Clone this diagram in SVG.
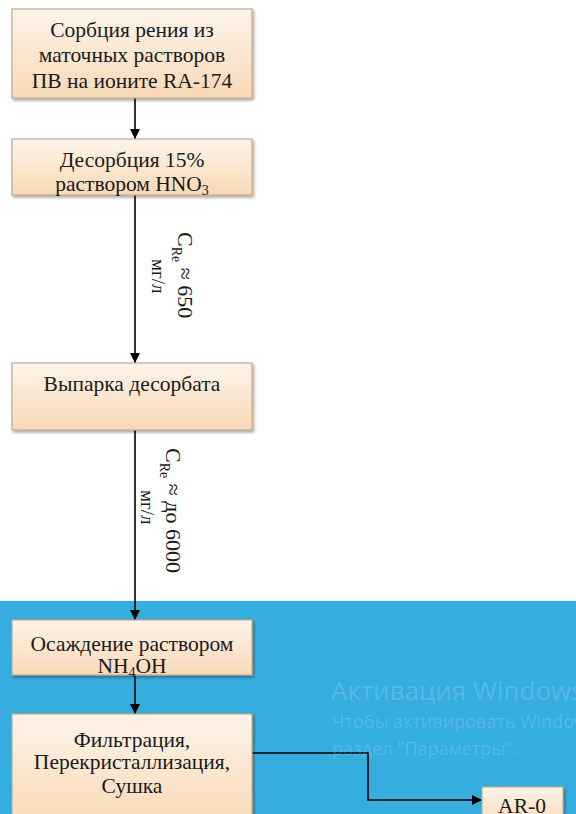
<svg xmlns="http://www.w3.org/2000/svg" width="576" height="814" viewBox="0 0 576 814">
  <defs>
    <linearGradient id="peach" x1="0" y1="0" x2="0" y2="1">
      <stop offset="0" stop-color="#fdf4ea"/>
      <stop offset="1" stop-color="#f8d9b6"/>
    </linearGradient>
    <filter id="shadow" x="-5%" y="-5%" width="115%" height="130%">
      <feDropShadow dx="1.5" dy="2" stdDeviation="1.5" flood-color="#000" flood-opacity="0.35"/>
    </filter>
    <marker id="arrow" viewBox="0 0 10 10" refX="10" refY="5" markerWidth="10" markerHeight="10" markerUnits="userSpaceOnUse" orient="auto">
      <path d="M0,0 L10,5 L0,10 Z" fill="#000"/>
    </marker>
  </defs>
  <style>
    .box { fill: url(#peach); stroke: #c8a887; stroke-width: 1.2; filter: url(#shadow); }
    .t { font-family: "Liberation Serif", "Times New Roman", serif; font-size: 21.5px; fill: #1a1a1a; text-anchor: middle; }
    .lbl { font-family: "Liberation Serif", "Times New Roman", serif; font-size: 22px; fill: #1a1a1a; }
    .unit { font-family: "Liberation Serif", "Times New Roman", serif; font-size: 19px; fill: #1a1a1a; }
    .sub { font-size: 14px; }
    .edge { fill: none; stroke: #000; stroke-width: 1.6; marker-end: url(#arrow); }
    .wm { font-family: "Open Sans", "Noto Sans", sans-serif; fill: #ffffff; fill-opacity: 0.16; }
  </style>

  <rect x="0" y="0" width="576" height="814" fill="#ffffff"/>
  <!-- desktop background band -->
  <rect x="0" y="601" width="576" height="213" fill="#36addf"/>

  <g id="connectors">
    <path class="edge" d="M135,98 V139"/>
    <path class="edge" d="M135,195 V363"/>
    <path class="edge" d="M135,430 V620"/>
    <path class="edge" d="M135,675 V714"/>
    <path class="edge" d="M252,753 H368 V800 H482"/>
  </g>

  <g id="edge-labels">
    <g transform="translate(178,232) rotate(90)">
      <text class="lbl" x="0" y="0">C<tspan class="sub" dy="6">Re</tspan><tspan dy="-6"> ≈ 650</tspan></text>
    </g>
    <g transform="translate(152,259) rotate(90)">
      <text class="unit" x="0" y="0">мг/л</text>
    </g>
    <g transform="translate(166,448) rotate(90)">
      <text class="lbl" x="0" y="0">C<tspan class="sub" dy="6">Re</tspan><tspan dy="-6"> ≈ до 6000</tspan></text>
    </g>
    <g transform="translate(141,490) rotate(90)">
      <text class="unit" x="0" y="0">мг/л</text>
    </g>
  </g>

  <g id="sorption">
    <rect class="box" x="12" y="9" width="240" height="89"/>
    <text class="t" x="132" y="37">Сорбция рения из</text>
    <text class="t" x="132" y="62">маточных растворов</text>
    <text class="t" x="132" y="88">ПВ на ионите RA-174</text>
  </g>

  <g id="desorption">
    <rect class="box" x="12" y="139" width="240" height="56"/>
    <text class="t" x="132" y="167">Десорбция 15%</text>
    <text class="t" x="132" y="191">раствором HNO<tspan class="sub" dy="4">3</tspan></text>
  </g>

  <g id="evaporation">
    <rect class="box" x="12" y="363" width="240" height="67"/>
    <text class="t" x="132" y="391">Выпарка десорбата</text>
  </g>

  <g id="precipitation">
    <rect class="box" x="12" y="620" width="240" height="55"/>
    <text class="t" x="132" y="651">Осаждение раствором</text>
    <text class="t" x="132" y="673">NH<tspan class="sub" dy="4">4</tspan><tspan dy="-4">OH</tspan></text>
  </g>

  <g id="filtration">
    <rect class="box" x="12" y="714" width="240" height="110"/>
    <text class="t" x="132" y="747">Фильтрация,</text>
    <text class="t" x="132" y="769">Перекристаллизация,</text>
    <text class="t" x="132" y="793">Сушка</text>
  </g>

  <g id="ar0">
    <rect class="box" x="482" y="787" width="81" height="40"/>
    <text class="t" x="522" y="813">AR-0</text>
  </g>

  <!-- system watermark overlay -->
  <g id="watermark">
    <text class="wm" x="331" y="700" font-size="26">Активация Windows</text>
    <text class="wm" x="332" y="728" font-size="18">Чтобы активировать Windows, перейдите в</text>
    <text class="wm" x="332" y="755" font-size="18">раздел "Параметры".</text>
  </g>
</svg>
